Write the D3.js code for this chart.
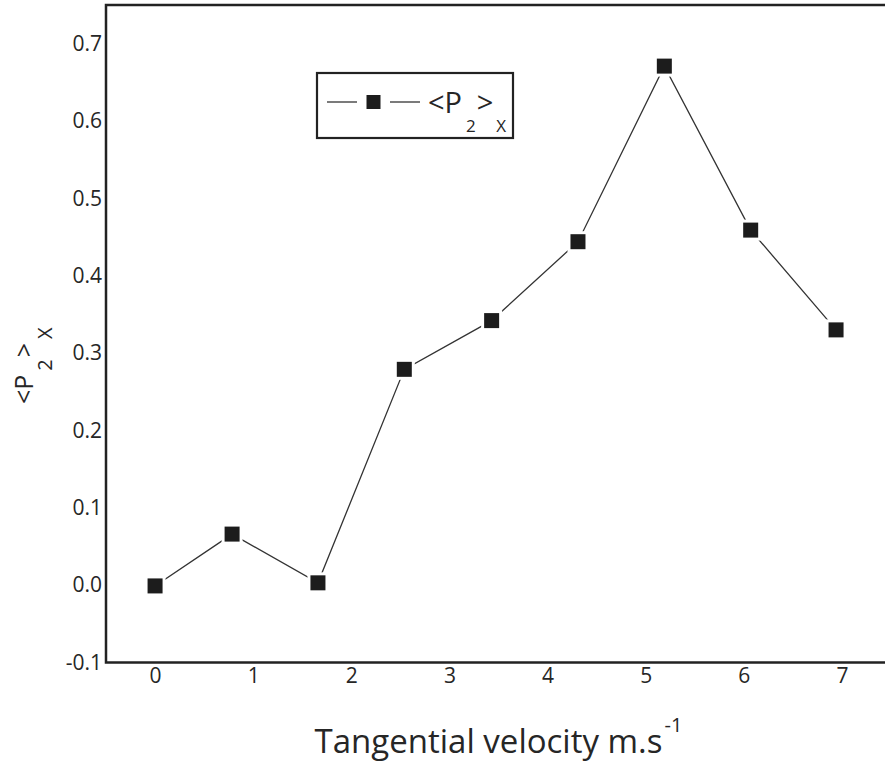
<!DOCTYPE html>
<html>
<head>
<meta charset="utf-8">
<script src="https://cdn.jsdelivr.net/npm/d3@7"></script>
<style>
  body { margin: 0; background: #fff; }
  text { font-family: "Open Sans", sans-serif; fill: #262626; }
</style>
</head>
<body>
<script>
const width = 885;
const height = 762;

// data
const velocity = [0, 0.785, 1.66, 2.54, 3.43, 4.31, 5.19, 6.07, 6.94];
const p2x = [-0.001, 0.066, 0.003, 0.279, 0.342, 0.444, 0.671, 0.459, 0.330];
const xTicks = [0, 1, 2, 3, 4, 5, 6, 7];
const yTicks = [-0.1, 0.0, 0.1, 0.2, 0.3, 0.4, 0.5, 0.6, 0.7];

const plotLeft = 106, plotRight = 891, plotTop = 5, plotBottom = 662.5;
const markerSize = 15;

const svg = d3.select('body')
  .append('svg')
  .attr('width', width)
  .attr('height', height);

const x = d3.scaleLinear().domain([-0.5, 7.5]).range([plotLeft, plotRight]);
const y = d3.scaleLinear().domain([-0.1, 0.75]).range([plotBottom, plotTop]);

// axes (no tick marks, just labels)
const xAxis = svg.append('g')
  .attr('transform', `translate(0,${plotBottom})`)
  .call(d3.axisBottom(x).tickValues(xTicks).tickSize(0).tickPadding(6).tickFormat(d3.format('d')));
xAxis.select('.domain').remove();
xAxis.selectAll('text').style('font-size', '21px').style('font-family', '"Open Sans", sans-serif').attr('fill', '#262626');

const yAxis = svg.append('g')
  .attr('transform', `translate(${plotLeft},0)`)
  .call(d3.axisLeft(y).tickValues(yTicks).tickSize(0).tickPadding(4).tickFormat(d => d.toFixed(1)));
yAxis.select('.domain').remove();
yAxis.selectAll('text').style('font-size', '21px').style('font-family', '"Open Sans", sans-serif').attr('fill', '#262626');

// frame
svg.append('rect')
  .attr('x', plotLeft)
  .attr('y', plotTop)
  .attr('width', plotRight - plotLeft)
  .attr('height', plotBottom - plotTop)
  .attr('fill', 'none')
  .attr('stroke', '#222')
  .attr('stroke-width', 2.5);

// series
const pts = velocity.map((v, i) => ({ v: v, p: p2x[i] }));

svg.append('path')
  .datum(pts)
  .attr('fill', 'none')
  .attr('stroke', '#333')
  .attr('stroke-width', 1.3)
  .attr('d', d3.line().x(d => x(d.v)).y(d => y(d.p)));

// white halo gives the small gap between line and marker
svg.selectAll('rect.halo')
  .data(pts)
  .enter()
  .append('rect')
  .attr('class', 'halo')
  .attr('x', d => x(d.v) - markerSize / 2 - 3)
  .attr('y', d => y(d.p) - markerSize / 2 - 3)
  .attr('width', markerSize + 6)
  .attr('height', markerSize + 6)
  .attr('fill', '#fff');

svg.selectAll('rect.marker')
  .data(pts)
  .enter()
  .append('rect')
  .attr('class', 'marker')
  .attr('x', d => x(d.v) - markerSize / 2)
  .attr('y', d => y(d.p) - markerSize / 2)
  .attr('width', markerSize)
  .attr('height', markerSize)
  .attr('fill', '#1c1c1c');

// legend
const legend = svg.append('g');
legend.append('rect')
  .attr('x', 317).attr('y', 73)
  .attr('width', 196).attr('height', 65)
  .attr('fill', '#fff')
  .attr('stroke', '#222')
  .attr('stroke-width', 2.2);
legend.append('line')
  .attr('x1', 327).attr('x2', 357).attr('y1', 102).attr('y2', 102)
  .attr('stroke', '#333').attr('stroke-width', 1.3);
legend.append('line')
  .attr('x1', 390).attr('x2', 420).attr('y1', 102).attr('y2', 102)
  .attr('stroke', '#333').attr('stroke-width', 1.3);
legend.append('rect')
  .attr('x', 373.5 - 7).attr('y', 102 - 7)
  .attr('width', 14).attr('height', 14)
  .attr('fill', '#1c1c1c');

// <P2>X with subscripts, used by legend and y title
function subLabel(sel, big, small, sub, gaps) {
  sel.append('tspan').text('<P').style('font-size', big + 'px');
  sel.append('tspan').text('2').style('font-size', small + 'px').attr('dx', gaps[0]).attr('dy', sub);
  sel.append('tspan').text('>').style('font-size', big + 'px').attr('dx', gaps[1]).attr('dy', -sub);
  sel.append('tspan').text('X').style('font-size', small + 'px').attr('dx', gaps[2]).attr('dy', sub);
}

const legendText = legend.append('text').attr('x', 428).attr('y', 113);
subLabel(legendText, 29, 17, 19, [4, 1, 3]);

// y axis title
const yTitle = svg.append('text')
  .attr('transform', 'translate(33,404) rotate(-90)');
subLabel(yTitle, 25, 20, 19, [4, 2, 4]);

// x axis title
const xTitle = svg.append('text')
  .attr('x', (plotLeft + plotRight) / 2)
  .attr('y', 753)
  .attr('text-anchor', 'middle')
  .style('font-size', '33px');
xTitle.append('tspan').text('Tangential velocity m.s');
xTitle.append('tspan').text('-1').style('font-size', '20px').attr('dx', 2).attr('dy', -21);
</script>
</body>
</html>
